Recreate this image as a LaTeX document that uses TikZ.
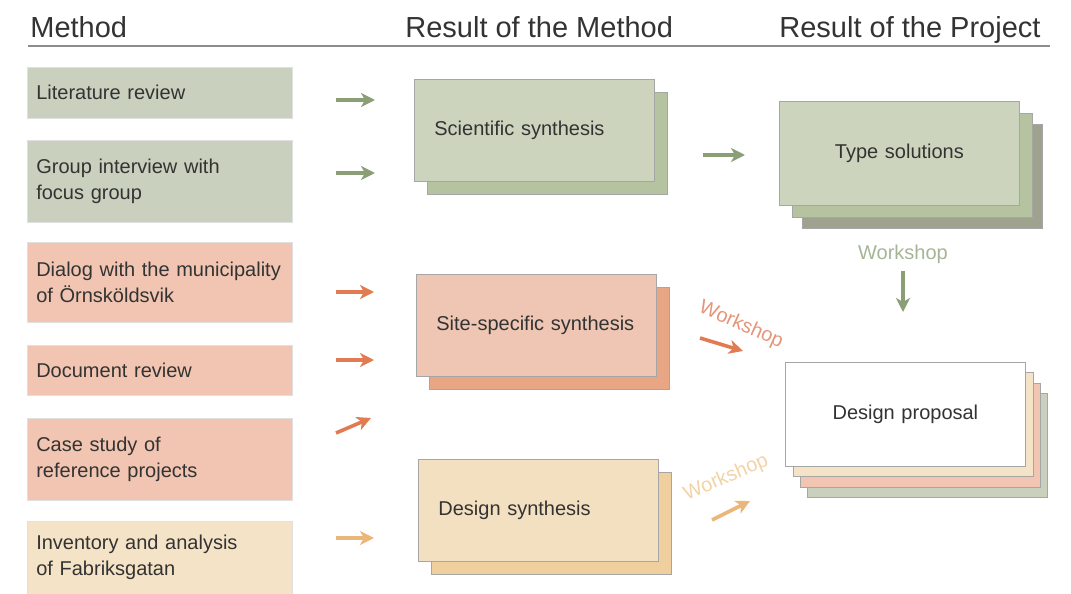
\documentclass[tikz,border=0pt]{standalone}
\usepackage{fontspec}
\setmainfont{Liberation Sans}
\usetikzlibrary{positioning,arrows.meta}
\definecolor{grnL}{HTML}{C9D0BD}
\definecolor{grnF}{HTML}{CCD4BE}
\definecolor{grnM}{HTML}{B5C3A1}
\definecolor{grnD}{HTML}{9EA28F}
\definecolor{salL}{HTML}{F1C5B1}
\definecolor{salF}{HTML}{EEC6B3}
\definecolor{salB}{HTML}{E8A685}
\definecolor{begL}{HTML}{F4E3C7}
\definecolor{begF}{HTML}{F3E0C1}
\definecolor{begB}{HTML}{F0CF9F}
\definecolor{grnA}{HTML}{8B9F76}
\definecolor{salA}{HTML}{E07B52}
\definecolor{begA}{HTML}{EBB679}
\definecolor{grnT}{HTML}{A5B596}
\definecolor{salT}{HTML}{E5957A}
\definecolor{begT}{HTML}{F2D3A6}
\definecolor{txt}{HTML}{333333}
\begin{document}
\begin{tikzpicture}
[x=0.5pt,y=-0.5pt,>={Stealth[length=7pt,width=7pt,inset=2pt]},
 head/.style = {anchor=base west, inner sep=0pt, text=txt, font=\fontsize{14.5}{16}\selectfont},
 lbox/.style = {anchor=north west, inner xsep=4.5pt, inner ysep=0pt, minimum width=132.5pt,
   text width=123.5pt, align=left, fill=#1, draw=black!12, line width=0.3pt, text=txt,
   font=\fontsize{10}{13}\selectfont},
 mbox/.style = {anchor=north west, inner xsep=10pt, inner ysep=0pt, minimum width=120pt,
   minimum height=51pt, text width=100pt, align=left, fill=#1, draw=black!35, line width=0.4pt,
   text=txt, font=\fontsize{10}{13}\selectfont},
 rbox/.style = {mbox=#1, align=center, minimum height=52pt},
 arr/.style = {->, draw=#1, line width=1.8pt},
 wlab/.style = {text=#1, inner sep=0pt, font=\fontsize{10}{12}\selectfont},
]
\useasboundingbox (0,0) rectangle (1071,594);

% headings
\node[head] (hmeth) at (30,37) {Method};
\node[head] (hres) at (405,37) {Result of the Method};
\node[head] (hproj) at (779,37) {Result of the Project};
\coordinate (rule1) at (28,46);
\coordinate (rule2) at (1050,46);
\draw[black!45, line width=1.1pt] (rule1) -- (rule2);

% method boxes
\node[lbox=grnL, minimum height=25.5pt] (lit) at (27,67) {Literature review};
\node[lbox=grnL, minimum height=41pt] (grp) at (27,140) {Group interview with\\focus group};
\node[lbox=salL, minimum height=40pt] (dia) at (27,242) {Dialog with the municipality\\of Örnsköldsvik};
\node[lbox=salL, minimum height=25pt] (doc) at (27,345) {Document review};
\node[lbox=salL, minimum height=41pt] (cas) at (27,418) {Case study of\\reference projects};
\node[lbox=begL, minimum height=36.5pt] (inv) at (27,521) {Inventory and analysis\\of Fabriksgatan};

% method arrows
\coordinate (a1) at (336,100); \coordinate (b1) at (375,100);
\coordinate (a2) at (336,173); \coordinate (b2) at (375,173);
\coordinate (a3) at (336,292); \coordinate (b3) at (374,292);
\coordinate (a4) at (336,360); \coordinate (b4) at (374,360);
\coordinate (a5) at (336,433); \coordinate (b5) at (371,418);
\coordinate (a6) at (336,538); \coordinate (b6) at (374,538);
\draw[arr=grnA] (a1) -- (b1);
\draw[arr=grnA] (a2) -- (b2);
\draw[arr=salA] (a3) -- (b3);
\draw[arr=salA] (a4) -- (b4);
\draw[arr=salA] (a5) -- (b5);
\draw[arr=begA] (a6) -- (b6);

% result of the method
\node[mbox=grnM] (sci2) at (427,92) {};
\node[mbox=grnF] (sci) at (414,79) {Scientific synthesis};
\node[mbox=salB] (site2) at (429,287) {};
\node[mbox=salF] (site) at (416,274) {Site-specific synthesis};
\node[mbox=begB] (des2) at (431,472) {};
\node[mbox=begF] (des) at (418,459) {Design synthesis};

% result of the project
\node[rbox=grnD] (type3) at (802,124) {};
\node[rbox=grnM] (type2) at (792,113) {};
\node[rbox=grnF] (type) at (779,101) {Type solutions};
\node[rbox=grnL] (prop4) at (807,393) {};
\node[rbox=salL] (prop3) at (800,383) {};
\node[rbox=begL] (prop2) at (793,372) {};
\node[rbox=white] (prop) at (785,362) {Design proposal};

% arrows to the project
\coordinate (a7) at (703,155); \coordinate (b7) at (745,155);
\draw[arr=grnA] (a7) -- (b7);
\node[wlab=grnT] (wsg) at (903,254) {Workshop};
\coordinate (a8) at (903,271); \coordinate (b8) at (903,312);
\draw[arr=grnA] (a8) -- (b8);
\node[wlab=salT, rotate=-24] (wss) at (741,325) {Workshop};
\coordinate (a9) at (700,338); \coordinate (b9) at (743,351);
\draw[arr=salA] (a9) -- (b9);
\node[wlab=begT, rotate=23] (wsb) at (726,478) {Workshop};
\coordinate (a10) at (712,520); \coordinate (b10) at (750,501);
\draw[arr=begA] (a10) -- (b10);

\end{tikzpicture}
\end{document}
